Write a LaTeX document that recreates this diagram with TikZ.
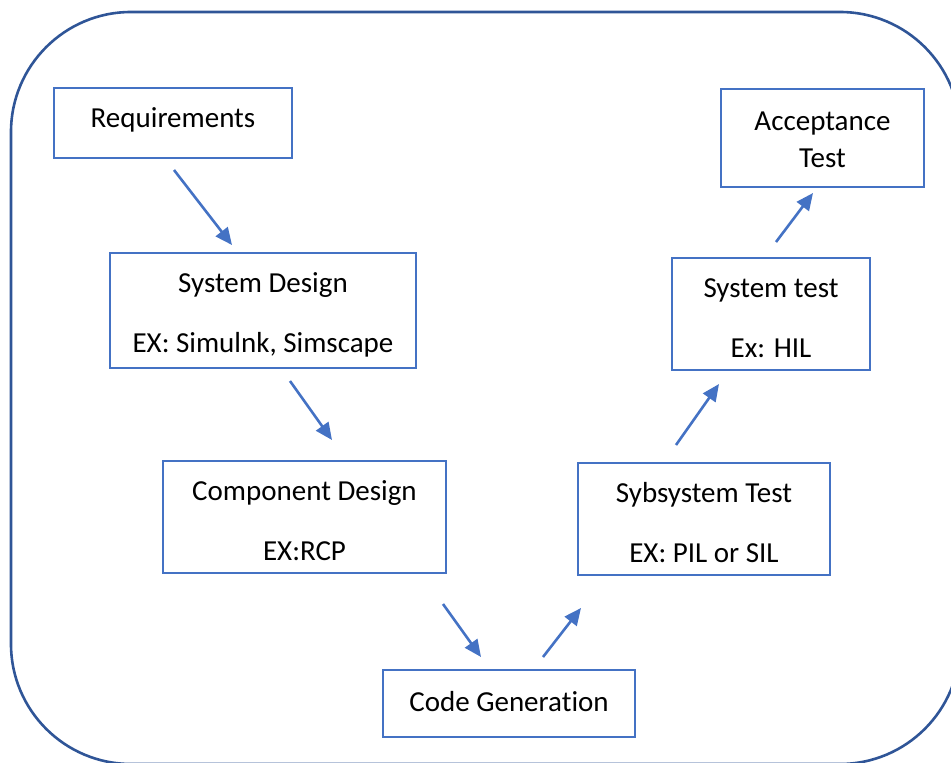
\documentclass[tikz,border=0pt]{standalone}
\usepackage{fontspec}
\setmainfont[Ligatures={NoCommon}]{Carlito}
\usetikzlibrary{arrows.meta}
\definecolor{boxblue}{HTML}{4472C4}
\definecolor{outerblue}{HTML}{2F5597}
\begin{document}
\begin{tikzpicture}[x=1pt,y=-1pt,
  stagebox/.style={draw=boxblue,line width=2.4pt,fill=white,inner sep=0pt},
  stagetext/.style={inner sep=0pt,align=center,font=\fontsize{29}{37}\selectfont},
  flow/.style={draw=boxblue,line width=2.6pt,-{Triangle[length=17pt,width=15pt]}}]
\useasboundingbox (0,0) rectangle (951,763);
\clip (0,0) rectangle (951,763);
\draw[outerblue,line width=2.6pt,rounded corners=120pt] (11,12) rectangle (960,764);
\node[stagebox,minimum width=238pt,minimum height=70pt] (req) at (173,123) {};
\node[stagetext] (reqt) at (173,120) {Requirements};
\node[stagebox,minimum width=306pt,minimum height=115pt] (sd) at (263,310.5) {};
\node[stagetext] (sdt) at (263,315) {System Design\\[23pt]EX: Simulnk, Simscape};
\node[stagebox,minimum width=283pt,minimum height=112pt] (cd) at (304.5,517) {};
\node[stagetext] (cdt) at (304.5,521) {Component Design\\[23pt]EX:RCP};
\node[stagebox,minimum width=252pt,minimum height=67pt] (cg) at (509,703.5) {};
\node[stagetext] (cgt) at (509,702) {Code Generation};
\node[stagebox,minimum width=252pt,minimum height=112pt] (sst) at (704,519) {};
\node[stagetext] (sstt) at (704,523) {Sybsystem Test\\[23pt]EX: PIL or SIL};
\node[stagebox,minimum width=198pt,minimum height=112pt] (st) at (771,314) {};
\node[stagetext] (stt) at (771,318.5) {System test\\[23pt]Ex: HIL};
\node[stagebox,minimum width=203pt,minimum height=98pt] (at) at (822.5,138) {};
\node[stagetext] (att) at (822.5,140) {Acceptance\\Test};
\coordinate (a1s) at (174,170); \coordinate (a1e) at (232,245);
\coordinate (a2s) at (290,381); \coordinate (a2e) at (332,440);
\coordinate (a3s) at (443,604); \coordinate (a3e) at (481,657);
\coordinate (a4s) at (543,657); \coordinate (a4e) at (581,608);
\coordinate (a5s) at (676,445); \coordinate (a5e) at (719,384);
\coordinate (a6s) at (776,242); \coordinate (a6e) at (813,193);
\draw[flow] (a1s) -- (a1e);
\draw[flow] (a2s) -- (a2e);
\draw[flow] (a3s) -- (a3e);
\draw[flow] (a4s) -- (a4e);
\draw[flow] (a5s) -- (a5e);
\draw[flow] (a6s) -- (a6e);
\end{tikzpicture}
\end{document}
